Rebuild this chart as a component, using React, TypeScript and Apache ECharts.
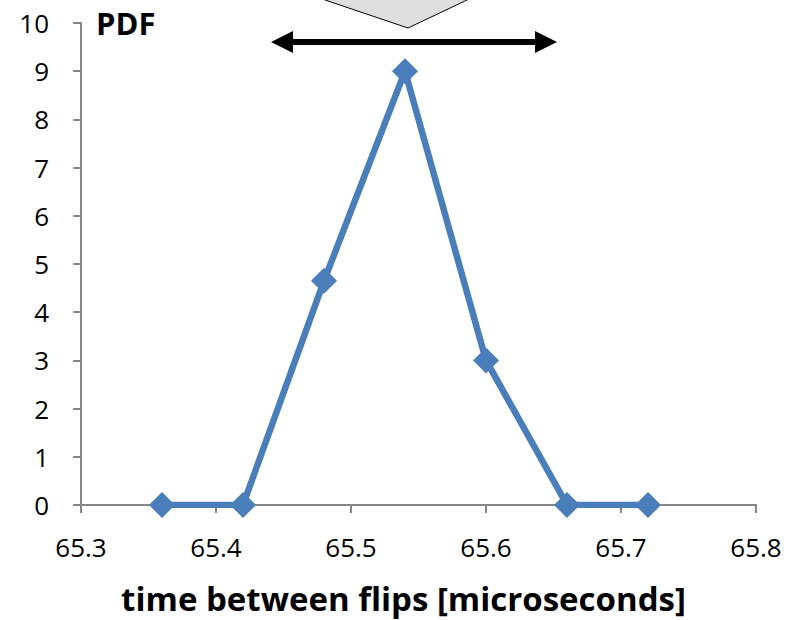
import React, { useEffect, useRef } from "react";
import * as echarts from "echarts";

const xValues = [65.36, 65.42, 65.48, 65.54, 65.6, 65.66, 65.72];
const pdfValues = [0, 0, 4.65, 9, 3, 0, 0];
const xTitle = "time between flips [microseconds]";
const yTitle = "PDF";

const FONT = "'Open Sans', sans-serif";

export default function App() {
  const ref = useRef<HTMLDivElement>(null);
  useEffect(() => {
    if (!ref.current) return;
    const chart = echarts.init(ref.current, undefined, { renderer: "svg" });
    const axisLine = { show: true, lineStyle: { color: "#868686", width: 2 } };
    chart.setOption({
      animation: false,
      backgroundColor: "#ffffff",
      grid: { left: 81, right: 36, top: 23, bottom: 113 },
      xAxis: {
        type: "value",
        min: 65.3,
        max: 65.8,
        interval: 0.1,
        axisLine: { ...axisLine, onZero: false },
        axisTick: { show: true, length: 8, lineStyle: { color: "#868686", width: 2 } },
        splitLine: { show: false },
        axisLabel: {
          margin: 29,
          fontFamily: FONT,
          fontSize: 26,
          color: "#000",
          formatter: (v: number) => v.toFixed(1),
        },
        name: xTitle,
        nameLocation: "middle",
        nameGap: 77,
        nameTextStyle: {
          fontFamily: FONT,
          fontSize: 33,
          fontWeight: "bold",
          color: "#000",
          padding: [0, 30, 0, 0],
        },
      },
      yAxis: {
        type: "value",
        min: 0,
        max: 10,
        interval: 1,
        axisLine,
        axisTick: { show: true, length: 8, lineStyle: { color: "#868686", width: 2 } },
        splitLine: { show: false },
        axisLabel: { margin: 32, fontFamily: FONT, fontSize: 26, color: "#000" },
      },
      graphic: [
        {
          type: "text",
          left: 96,
          top: 7,
          style: { text: yTitle, fontFamily: FONT, fontSize: 31, fontWeight: "bold", fill: "#000" },
        },
        {
          type: "polygon",
          shape: { points: [[300, -20], [325, 0], [408, 28], [467, 0], [500, -20]] },
          style: { fill: "#dedede", stroke: "#000", lineWidth: 1 },
        },
        {
          type: "line",
          shape: { x1: 290, y1: 42, x2: 537, y2: 42 },
          style: { stroke: "#000", lineWidth: 6 },
        },
        {
          type: "polygon",
          shape: { points: [[271, 42], [293, 31], [293, 53]] },
          style: { fill: "#000" },
        },
        {
          type: "polygon",
          shape: { points: [[557, 42], [535, 31], [535, 53]] },
          style: { fill: "#000" },
        },
      ],
      series: [
        {
          type: "line",
          data: xValues.map((x, i) => [x, pdfValues[i]]),
          symbol: "diamond",
          symbolSize: 26,
          showSymbol: true,
          lineStyle: { color: "#4a7ebb", width: 6.5 },
          itemStyle: { color: "#4a7ebb" },
        },
      ],
    });
    return () => chart.dispose();
  }, []);
  return (
    <div
      ref={ref}
      style={{ position: "absolute", left: 0, top: 0, width: 792, height: 620 }}
    />
  );
}
